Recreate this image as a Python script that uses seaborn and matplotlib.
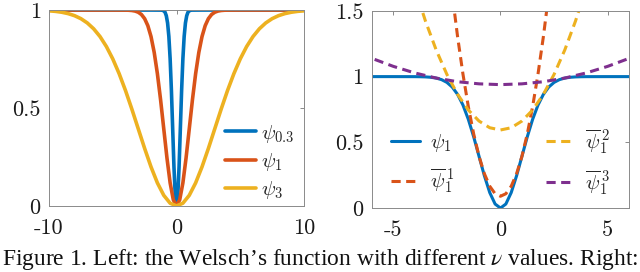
import matplotlib
matplotlib.use("Agg")
import matplotlib.pyplot as plt
import seaborn as sns

# Left panel: Welsch function psi_nu for nu = 0.3, 1, 3
x_p03 = [-10, -2, -1.2, -1.1, -1.0, -0.9, -0.8, -0.7, -0.6, -0.5, -0.4, -0.3, -0.2, -0.1, 0,
         0.1, 0.2, 0.3, 0.4, 0.5, 0.6, 0.7, 0.8, 0.9, 1.0, 1.1, 1.2, 2, 10]
y_p03 = [1, 1, 0.9997, 0.9988, 0.996, 0.989, 0.971, 0.934, 0.865, 0.751, 0.589, 0.393, 0.199, 0.054, 0,
         0.054, 0.199, 0.393, 0.589, 0.751, 0.865, 0.934, 0.971, 0.989, 0.996, 0.9988, 0.9997, 1, 1]

x_p1 = [-10, -6, -5, -4, -3.75, -3.5, -3.25, -3, -2.75, -2.5, -2.25, -2, -1.75, -1.5, -1.25, -1, -0.75, -0.5, -0.25, 0,
        0.25, 0.5, 0.75, 1, 1.25, 1.5, 1.75, 2, 2.25, 2.5, 2.75, 3, 3.25, 3.5, 3.75, 4, 5, 6, 10]
y_p1 = [1, 1, 1, 0.9997, 0.9991, 0.9978, 0.9949, 0.9889, 0.9772, 0.9561, 0.9204, 0.8647, 0.7837, 0.6753, 0.5422,
        0.3935, 0.2452, 0.1175, 0.0308, 0,
        0.0308, 0.1175, 0.2452, 0.3935, 0.5422, 0.6753, 0.7837, 0.8647, 0.9204, 0.9561, 0.9772, 0.9889, 0.9949,
        0.9978, 0.9991, 0.9997, 1, 1, 1]

x_p3 = [-10, -9.5, -9, -8.5, -8, -7.5, -7, -6.5, -6, -5.5, -5, -4.5, -4, -3.5, -3, -2.5, -2, -1.5, -1, -0.5, 0,
        0.5, 1, 1.5, 2, 2.5, 3, 3.5, 4, 4.5, 5, 5.5, 6, 6.5, 7, 7.5, 8, 8.5, 9, 9.5, 10]
y_p3 = [0.9961, 0.9934, 0.9889, 0.9819, 0.9714, 0.9561, 0.9343, 0.9044, 0.8647, 0.8137, 0.7506, 0.6753, 0.5889,
        0.4937, 0.3935, 0.2934, 0.1993, 0.1175, 0.054, 0.0138, 0,
        0.0138, 0.054, 0.1175, 0.1993, 0.2934, 0.3935, 0.4937, 0.5889, 0.6753, 0.7506, 0.8137, 0.8647, 0.9044,
        0.9343, 0.9561, 0.9714, 0.9819, 0.9889, 0.9934, 0.9961]

# Right panel: psi_1 and its three quadratic upper bounds
x_b1 = [-2.25, -2, -1.75, -1.5, -1.25, -1, -0.75, -0.5, -0.25, 0, 0.25, 0.5, 0.75, 1, 1.25, 1.5, 1.75, 2, 2.25]
y_b1 = [1.626, 1.303, 1.019, 0.772, 0.564, 0.393, 0.261, 0.166, 0.109, 0.090,
        0.109, 0.166, 0.261, 0.393, 0.564, 0.772, 1.019, 1.303, 1.626]

x_b2 = [-4, -3.5, -3, -2.5, -2, -1.5, -1, -0.5, 0, 0.5, 1, 1.5, 2, 2.5, 3, 3.5, 4]
y_b2 = [1.677, 1.423, 1.203, 1.017, 0.865, 0.746, 0.662, 0.611, 0.594,
        0.611, 0.662, 0.746, 0.865, 1.017, 1.203, 1.423, 1.677]

x_b3 = [-6.5, -6, -5, -4, -3, -2, -1, 0, 1, 2, 3, 4, 5, 6, 6.5]
y_b3 = [1.174, 1.139, 1.078, 1.028, 0.989, 0.961, 0.945, 0.939, 0.945, 0.961, 0.989, 1.028, 1.078, 1.139, 1.174]

left_labels = [r"$\psi_{0.3}$", r"$\psi_1$", r"$\psi_3$"]
right_labels = [r"$\psi_1$", r"$\overline{\psi}_1^{\,1}$", r"$\overline{\psi}_1^{\,2}$", r"$\overline{\psi}_1^{\,3}$"]

blue, orange, yellow, purple = "#0072BD", "#D95319", "#EDB120", "#7E2F8E"

sns.set_theme(style="white")
plt.rcParams["font.family"] = ["cmr10", "DejaVu Serif"]
plt.rcParams["mathtext.fontset"] = "cm"
plt.rcParams["axes.unicode_minus"] = False

fig = plt.figure(figsize=(6.4, 2.72), dpi=100)
axL = fig.add_axes([0.0766, 0.243, 0.3984, 0.72])
axR = fig.add_axes([0.581, 0.235, 0.402, 0.725])

lw = 2.6
for xs, ys, c, lab in [(x_p03, y_p03, blue, left_labels[0]),
                       (x_p1, y_p1, orange, left_labels[1]),
                       (x_p3, y_p3, yellow, left_labels[2])]:
    sns.lineplot(x=xs, y=ys, ax=axL, color=c, linewidth=lw, label=lab, sort=False, estimator=None)

dash = (0, (3.0, 1.8))
sns.lineplot(x=x_p1, y=y_p1, ax=axR, color=blue, linewidth=2.2, label=right_labels[0], sort=False, estimator=None)
sns.lineplot(x=x_b1, y=y_b1, ax=axR, color=orange, linewidth=2.2, linestyle=dash, label=right_labels[1], sort=False, estimator=None)
sns.lineplot(x=x_b2, y=y_b2, ax=axR, color=yellow, linewidth=2.2, linestyle=dash, label=right_labels[2], sort=False, estimator=None)
sns.lineplot(x=x_b3, y=y_b3, ax=axR, color=purple, linewidth=2.2, linestyle=dash, label=right_labels[3], sort=False, estimator=None)

axL.set_xlim(-10, 10)
axL.set_ylim(0, 1)
axL.set_xticks([-10, 0, 10])
axL.set_xticklabels(["-10", "0", "10"])
axL.set_yticks([0, 0.5, 1])
axL.set_yticklabels(["0", "0.5", "1"])

axR.set_xlim(-6, 6)
axR.set_ylim(0, 1.5)
axR.set_xticks([-5, 0, 5])
axR.set_xticklabels(["-5", "0", "5"])
axR.set_yticks([0, 0.5, 1, 1.5])
axR.set_yticklabels(["0", "0.5", "1", "1.5"])

for ax in (axL, axR):
    for s in ax.spines.values():
        s.set_visible(True)
        s.set_color("#8a8a8a")
        s.set_linewidth(0.7)
    ax.tick_params(direction="in", length=3, width=0.7, color="#8a8a8a", top=True, right=True,
                   labelsize=16, labelcolor="#1a1a1a")
    ax.tick_params(axis="x", pad=9)
    ax.tick_params(axis="y", pad=6)
    ax.set_xlabel("")
    ax.set_ylabel("")

axL.legend(loc="upper left", bbox_to_anchor=(0.69, 0.425), frameon=False, fontsize=15,
           handlelength=1.5, handletextpad=0.25, labelspacing=0.3, borderpad=0, borderaxespad=0)

h, l = axR.get_legend_handles_labels()
axR.legend(h, l, loc="upper left", bbox_to_anchor=(0.075, 0.41), ncol=2, frameon=False, fontsize=15,
           handlelength=1.4, handletextpad=0.45, labelspacing=0.6, columnspacing=4.4,
           borderpad=0, borderaxespad=0)

fig.text(0.003, 0.024, "Figure 1. Left: the Welsch\u2019s function with different $\\nu$ values. Right:",
         fontsize=16.9, family="Liberation Serif", math_fontfamily="stix", va="baseline", ha="left", color="#111111")

fig.savefig("out.png", dpi=100)
